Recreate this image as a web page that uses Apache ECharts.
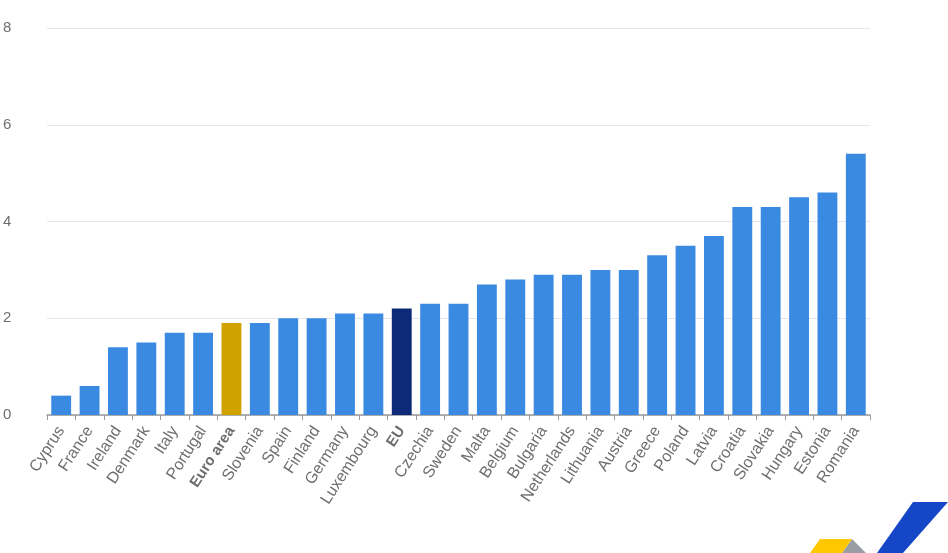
<!DOCTYPE html>
<html>
<head>
<meta charset="utf-8">
<script src="https://cdn.jsdelivr.net/npm/echarts@6/dist/echarts.min.js"></script>
<style>
  html, body { margin: 0; padding: 0; background: #fff; }
  #main { width: 948px; height: 553px; }
</style>
</head>
<body>
<div id="main"></div>
<script>
var chart = echarts.init(document.getElementById('main'));

var countries = ['Cyprus', 'France', 'Ireland', 'Denmark', 'Italy', 'Portugal', 'Euro area', 'Slovenia',
    'Spain', 'Finland', 'Germany', 'Luxembourg', 'EU', 'Czechia', 'Sweden', 'Malta', 'Belgium',
    'Bulgaria', 'Netherlands', 'Lithuania', 'Austria', 'Greece', 'Poland', 'Latvia', 'Croatia',
    'Slovakia', 'Hungary', 'Estonia', 'Romania'];
var values = [0.4, 0.6, 1.4, 1.5, 1.7, 1.7, 1.9, 1.9, 2.0, 2.0, 2.1, 2.1, 2.2, 2.3, 2.3, 2.7, 2.8,
    2.9, 2.9, 3.0, 3.0, 3.3, 3.5, 3.7, 4.3, 4.3, 4.5, 4.6, 5.4];
var yTicks = [0, 2, 4, 6, 8];

var BLUE = '#3b8ae2';
var GOLD = '#d0a200';
var NAVY = '#0c2a78';
var FONT = 'Liberation Sans, Arial, sans-serif';

function barColor(name) {
    if (name === 'Euro area') return GOLD;
    if (name === 'EU') return NAVY;
    return BLUE;
}

var option = {
    animation: false,
    grid: { left: 46, right: 78, top: 28, bottom: 138 },
    xAxis: {
        type: 'category',
        data: countries,
        axisLine: { lineStyle: { color: '#999', width: 1.5 } },
        axisTick: { show: true, lineStyle: { color: '#999' }, length: 5 },
        axisLabel: {
            rotate: 57,
            interval: 0,
            color: '#6e6e6e',
            fontSize: 16,
            fontFamily: FONT,
            margin: 13,
            formatter: function (v) {
                return (v === 'Euro area' || v === 'EU') ? '{b|' + v + '}' : v;
            },
            rich: {
                b: { fontWeight: 'bold', color: '#6e6e6e', fontSize: 15, fontFamily: FONT }
            }
        }
    },
    yAxis: {
        type: 'value',
        min: yTicks[0],
        max: yTicks[yTicks.length - 1],
        interval: 2,
        axisLine: { show: false },
        axisTick: { show: false },
        splitLine: { lineStyle: { color: '#e3e6ee', width: 1 } },
        axisLabel: {
            color: '#6e6e6e',
            fontSize: 15,
            fontFamily: FONT,
            align: 'left',
            margin: 44
        }
    },
    series: [{
        type: 'bar',
        barWidth: '70%',
        data: values.map(function (v, i) {
            return { value: v, itemStyle: { color: barColor(countries[i]) } };
        })
    }],
    graphic: [
        { type: 'polygon', shape: { points: [[913, 502], [948, 502], [903, 553], [877, 553]] }, style: { fill: '#1546c8' } },
        { type: 'polygon', shape: { points: [[852, 539], [866, 553], [842, 553]] }, style: { fill: '#9a9da3' } },
        { type: 'polygon', shape: { points: [[820, 539], [852, 539], [842, 553], [810, 553]] }, style: { fill: '#ffc800' } }
    ]
};

chart.setOption(option);
</script>
</body>
</html>
